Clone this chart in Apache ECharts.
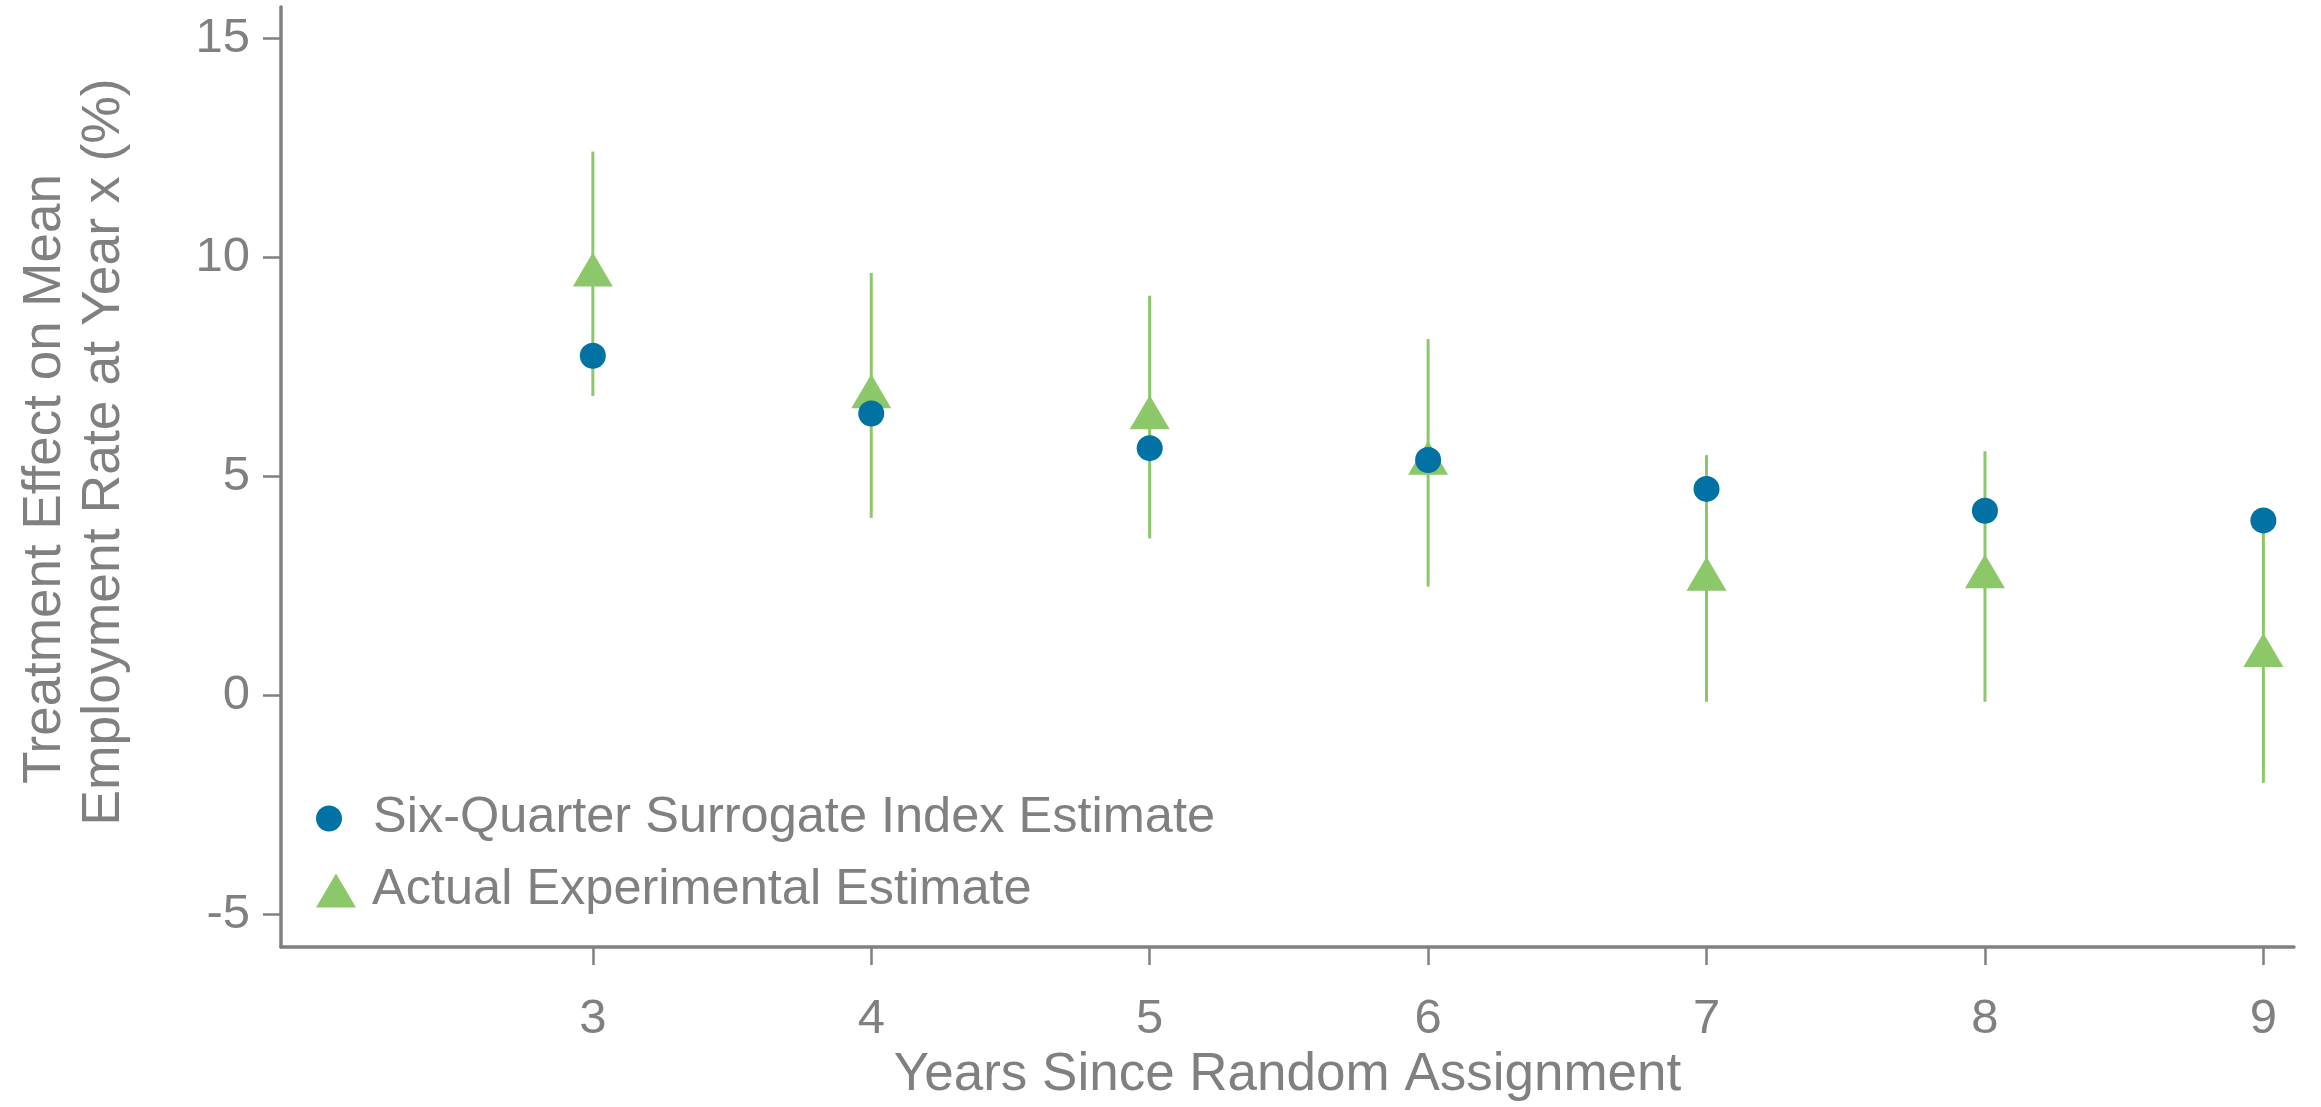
<!DOCTYPE html>
<html>
<head>
<meta charset="utf-8">
<title>Surrogate index vs experimental estimates</title>
<script src="https://cdn.jsdelivr.net/npm/echarts@6/dist/echarts.min.js"></script>
<style>
  html, body { margin: 0; padding: 0; background: #fff; }
  #chart { width: 2321px; height: 1107px; }
</style>
</head>
<body>
<div id="chart"></div>
<script>
// years since random assignment
var years = [3, 4, 5, 6, 7, 8, 9]
// six-quarter surrogate index estimate
var surrogate = [7.76, 6.44, 5.65, 5.38, 4.72, 4.22, 4.0]
// actual experimental estimate and its confidence interval
var actual = [9.73, 6.95, 6.47, 5.43, 2.78, 2.84, 1.04]
var ciLow = [6.84, 4.06, 3.59, 2.49, -0.14, -0.14, -1.99]
var ciHigh = [12.42, 9.65, 9.13, 8.14, 5.49, 5.58, 4.0]
// tick labels
var yTicks = [-5, 0, 5, 10, 15]
var xTicks = [3, 4, 5, 6, 7, 8, 9]

var nameSurrogate = 'Six-Quarter Surrogate Index Estimate'
var nameActual = 'Actual Experimental Estimate'

var gray = '#808080'
var blue = '#0172a3'
var green = '#8cc76a'
var font = 'Liberation Sans, Arial, Helvetica, sans-serif'

var chart = echarts.init(document.getElementById('chart'))

// pair up x with values
function pts (vals) {
  return years.map(function (y, i) { return [y, vals[i]] })
}
var ciData = years.map(function (y, i) { return [y, ciLow[i], ciHigh[i]] })

var option = {
  animation: false,
  backgroundColor: '#ffffff',
  grid: {
    left: 281,
    right: 27,
    top: 7,
    bottom: 156
  },
  xAxis: {
    type: 'value',
    min: 1.88,
    max: 9.11,
    name: 'Years Since Random Assignment',
    nameLocation: 'middle',
    nameGap: 100,
    nameTextStyle: { fontSize: 53, color: gray, fontFamily: font },
    axisLine: { onZero: false, lineStyle: { color: gray, width: 3.5 } },
    axisTick: { customValues: xTicks, length: 18, lineStyle: { color: gray, width: 2.5 } },
    axisLabel: { customValues: xTicks, fontSize: 49, color: gray, fontFamily: font, margin: 48 },
    splitLine: { show: false }
  },
  yAxis: {
    type: 'value',
    min: -5.74,
    max: 15.72,
    axisLine: { show: true, onZero: false, lineStyle: { color: gray, width: 3.5 } },
    axisTick: { show: true, customValues: yTicks, length: 18, lineStyle: { color: gray, width: 2.5 } },
    axisLabel: { customValues: yTicks, fontSize: 49, color: gray, fontFamily: font, margin: 31 },
    splitLine: { show: false }
  },
  legend: [
    {
      data: [{ name: nameSurrogate, icon: 'circle' }],
      orient: 'vertical',
      left: 311,
      top: 788,
      itemWidth: 38,
      itemHeight: 26,
      selectedMode: false,
      textStyle: { fontSize: 50.5, color: gray, fontFamily: font, padding: [0, 0, 0, 20] }
    },
    {
      data: [{ name: nameActual, icon: 'triangle' }],
      orient: 'vertical',
      left: 311,
      top: 860,
      itemWidth: 40,
      itemHeight: 34,
      symbolKeepAspect: false,
      selectedMode: false,
      textStyle: { fontSize: 50.5, color: gray, fontFamily: font, padding: [0, 0, 0, 11] }
    }
  ],
  // y axis title, two lines set separately like the original
  graphic: [
    {
      type: 'text',
      x: 45,
      y: 479,
      rotation: Math.PI / 2,
      style: {
        text: 'Treatment Effect on Mean',
        fill: gray,
        fontSize: 53,
        fontFamily: font,
        textAlign: 'center',
        align: 'center',
        textVerticalAlign: 'middle',
        verticalAlign: 'middle'
      }
    },
    {
      type: 'text',
      x: 104,
      y: 452,
      rotation: Math.PI / 2,
      style: {
        text: 'Employment Rate at Year x (%)',
        fill: gray,
        fontSize: 53.5,
        fontFamily: font,
        textAlign: 'center',
        align: 'center',
        textVerticalAlign: 'middle',
        verticalAlign: 'middle'
      }
    }
  ],
  series: [
    {
      // confidence interval of the experimental estimate
      name: 'ci',
      type: 'custom',
      z: 1,
      data: ciData,
      renderItem: function (params, api) {
        var lo = api.coord([api.value(0), api.value(1)])
        var hi = api.coord([api.value(0), api.value(2)])
        return {
          type: 'line',
          shape: { x1: lo[0], y1: lo[1], x2: hi[0], y2: hi[1] },
          style: { stroke: green, lineWidth: 3 }
        }
      }
    },
    {
      name: nameActual,
      type: 'scatter',
      z: 2,
      symbol: 'triangle',
      symbolSize: [40, 34],
      itemStyle: { color: green, opacity: 1 },
      data: pts(actual)
    },
    {
      name: nameSurrogate,
      type: 'scatter',
      z: 3,
      symbol: 'circle',
      symbolSize: 26,
      itemStyle: { color: blue, opacity: 1 },
      data: pts(surrogate)
    }
  ]
}
chart.setOption(option)
</script>
</body>
</html>
